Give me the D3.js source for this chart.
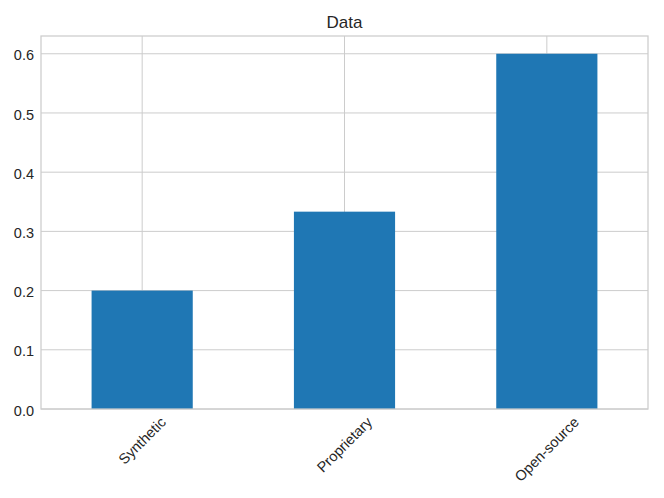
<!DOCTYPE html>
<html>
<head>
<meta charset="utf-8">
<script src="https://cdn.jsdelivr.net/npm/d3@7"></script>
<style>
  html, body { margin: 0; padding: 0; background: #fff; }
  svg { display: block; font-family: "Liberation Sans", Arial, Helvetica, sans-serif; }
</style>
</head>
<body>
<svg id="chart" width="664" height="498"></svg>
<script>
const categories = ["Synthetic", "Proprietary", "Open-source"];
const values = [0.2, 0.3333, 0.6];
const yTicks = [0.0, 0.1, 0.2, 0.3, 0.4, 0.5, 0.6];
const title = "Data";

const svg = d3.select("#chart");
const W = 664, H = 498;
const m = { left: 41, right: 664 - 648, top: 36, bottom: 498 - 409 };
const iw = W - m.left - m.right, ih = H - m.top - m.bottom;

const x = d3.scaleLinear().domain([-0.5, categories.length - 0.5]).range([m.left, m.left + iw]);
const y = d3.scaleLinear().domain([0, 0.63]).range([m.top + ih, m.top]);
const barW = x(0.25) - x(-0.25);

const grid = svg.append("g");
grid.selectAll("line.h").data(yTicks).join("line")
  .attr("x1", m.left).attr("x2", m.left + iw)
  .attr("y1", d => y(d)).attr("y2", d => y(d))
  .attr("stroke", "#cccccc").attr("stroke-width", 1);
grid.selectAll("line.v").data(categories).join("line")
  .attr("x1", (d, i) => x(i)).attr("x2", (d, i) => x(i))
  .attr("y1", m.top).attr("y2", m.top + ih)
  .attr("stroke", "#cccccc").attr("stroke-width", 1);

svg.append("g").selectAll("rect").data(values).join("rect")
  .attr("x", (d, i) => x(i) - barW / 2)
  .attr("width", barW)
  .attr("y", d => y(d))
  .attr("height", d => y(0) - y(d))
  .attr("fill", "#1f77b4");

svg.append("rect")
  .attr("x", m.left).attr("y", m.top).attr("width", iw).attr("height", ih)
  .attr("fill", "none").attr("stroke", "#cccccc").attr("stroke-width", 1.25);

svg.append("g").selectAll("text").data(yTicks).join("text")
  .attr("x", m.left - 7)
  .attr("y", d => y(d) + 6.7)
  .attr("text-anchor", "end")
  .attr("font-size", 14.5)
  .attr("fill", "#262626")
  .text(d => d.toFixed(1));

const fs = 14.5;
const xl = svg.append("g").selectAll("text").data(categories).join("text")
  .attr("text-anchor", "middle")
  .attr("dominant-baseline", "central")
  .attr("font-size", fs)
  .attr("fill", "#262626")
  .text(d => d);
xl.each(function(d, i) {
  const w = this.getComputedTextLength();
  const h = fs * 0.9;
  const cy = y(0) + 6 + (w + h) / (2 * Math.SQRT2);
  d3.select(this).attr("transform", `translate(${x(i)},${cy}) rotate(-45)`);
});

svg.append("text")
  .attr("x", m.left + iw / 2)
  .attr("y", 27.7)
  .attr("text-anchor", "middle")
  .attr("font-size", 17)
  .attr("fill", "#262626")
  .text(title);
</script>
</body>
</html>
